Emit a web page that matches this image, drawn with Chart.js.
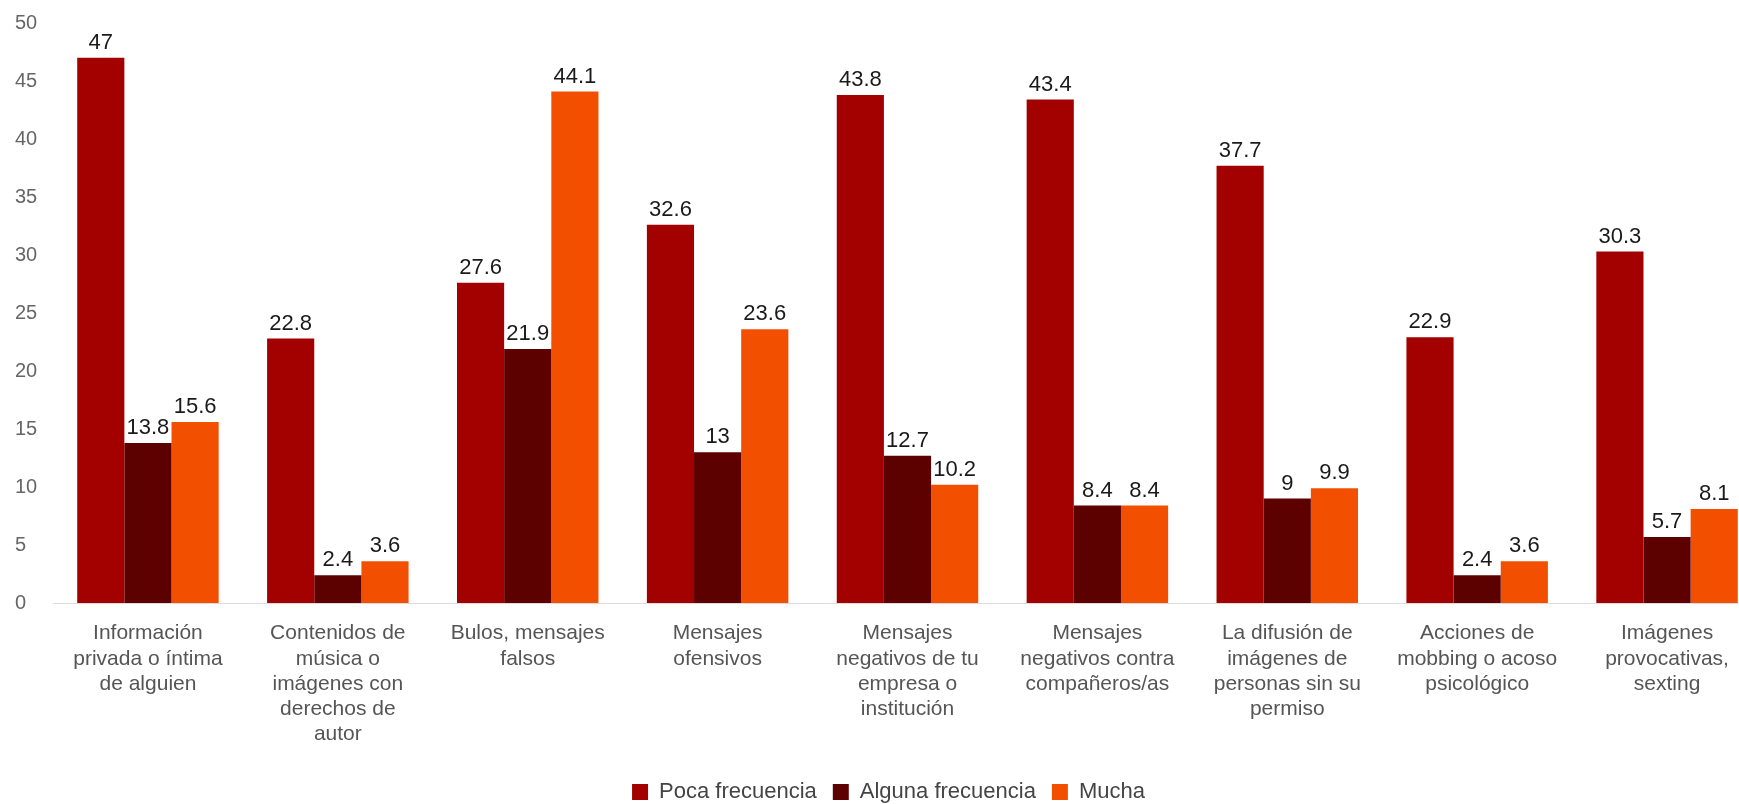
<!DOCTYPE html>
<html>
<head>
<meta charset="utf-8">
<script src="https://cdn.jsdelivr.net/npm/chart.js@4/dist/chart.umd.min.js"></script>
<style>
    body { margin: 0; background: #fff; overflow: hidden; }
    #wrap { width: 1768px; height: 813px; }
</style>
</head>
<body>
<div id="wrap"><canvas id="myChart"></canvas></div>
<script>
// Categories (pre-wrapped like the original)
const categories = [
    ['Información', 'privada o íntima', 'de alguien'],
    ['Contenidos de', 'música o', 'imágenes con', 'derechos de', 'autor'],
    ['Bulos, mensajes', 'falsos'],
    ['Mensajes', 'ofensivos'],
    ['Mensajes', 'negativos de tu', 'empresa o', 'institución'],
    ['Mensajes', 'negativos contra', 'compañeros/as'],
    ['La difusión de', 'imágenes de', 'personas sin su', 'permiso'],
    ['Acciones de', 'mobbing o acoso', 'psicológico'],
    ['Imágenes', 'provocativas,', 'sexting']
];

const seriesNames = ['Poca frecuencia', 'Alguna frecuencia', 'Mucha'];
const pocaValues = [47, 22.8, 27.6, 32.6, 43.8, 43.4, 37.7, 22.9, 30.3];
const algunaValues = [13.8, 2.4, 21.9, 13, 12.7, 8.4, 9, 2.4, 5.7];
const muchaValues = [15.6, 3.6, 44.1, 23.6, 10.2, 8.4, 9.9, 3.6, 8.1];
const seriesColors = ['#a30000', '#5c0000', '#f25000'];

const yTicks = [0, 5, 10, 15, 20, 25, 30, 35, 40, 45, 50];

// value labels with a white box behind them
const valueLabels = {
    id: 'valueLabels',
    afterDatasetsDraw(chart) {
        const ctx = chart.ctx;
        ctx.save();
        ctx.font = '22px "Liberation Sans", Arial, sans-serif';
        ctx.textAlign = 'center';
        ctx.textBaseline = 'bottom';
        chart.data.datasets.forEach((ds, i) => {
            const meta = chart.getDatasetMeta(i);
            meta.data.forEach((bar, j) => {
                const txt = String(ds.data[j]);
                const w = ctx.measureText(txt).width;
                const y = bar.y - 5;
                ctx.fillStyle = '#fff';
                ctx.fillRect(bar.x - w / 2 - 1, y - 19, w + 2, 18);
                ctx.fillStyle = '#1a1a1a';
                ctx.fillText(txt, bar.x, y + 1);
            });
        });
        ctx.restore();
    }
};

document.addEventListener('DOMContentLoaded', () => {
    const ctx = document.getElementById('myChart').getContext('2d');
    const values = [pocaValues, algunaValues, muchaValues];

    new Chart(ctx, {
        type: 'bar',
        data: {
            labels: categories,
            datasets: seriesNames.map((name, i) => ({
                label: name,
                data: values[i],
                backgroundColor: seriesColors[i],
                borderWidth: 0,
                categoryPercentage: 0.745,
                barPercentage: 1.0
            }))
        },
        options: {
            responsive: true,
            maintainAspectRatio: false,
            animation: false,
            layout: { padding: { left: 15, right: 6, top: 23, bottom: 0 } },
            plugins: {
                tooltip: { enabled: false },
                legend: {
                    position: 'bottom',
                    labels: {
                        boxWidth: 16,
                        boxHeight: 16,
                        padding: 16,
                        color: '#444',
                        font: { family: '"Liberation Sans", Arial, sans-serif', size: 22 }
                    }
                }
            },
            scales: {
                x: {
                    grid: { display: false, drawTicks: false },
                    border: { display: true, color: '#dcdcdc', width: 1 },
                    ticks: {
                        color: '#555',
                        padding: 18,
                        maxRotation: 0,
                        autoSkip: false,
                        font: { family: '"Liberation Sans", Arial, sans-serif', size: 21, lineHeight: 1.2 }
                    }
                },
                y: {
                    min: 0,
                    max: 50,
                    grid: { display: false, drawTicks: false },
                    border: { display: false },
                    afterBuildTicks: (scale) => {
                        scale.ticks = yTicks.map(v => ({ value: v }));
                    },
                    afterFit: (scale) => { scale.width = 38; },
                    ticks: {
                        crossAlign: 'far',
                        color: '#666',
                        font: { family: '"Liberation Sans", Arial, sans-serif', size: 20 }
                    }
                }
            }
        },
        plugins: [valueLabels]
    });
});
</script>
</body>
</html>
